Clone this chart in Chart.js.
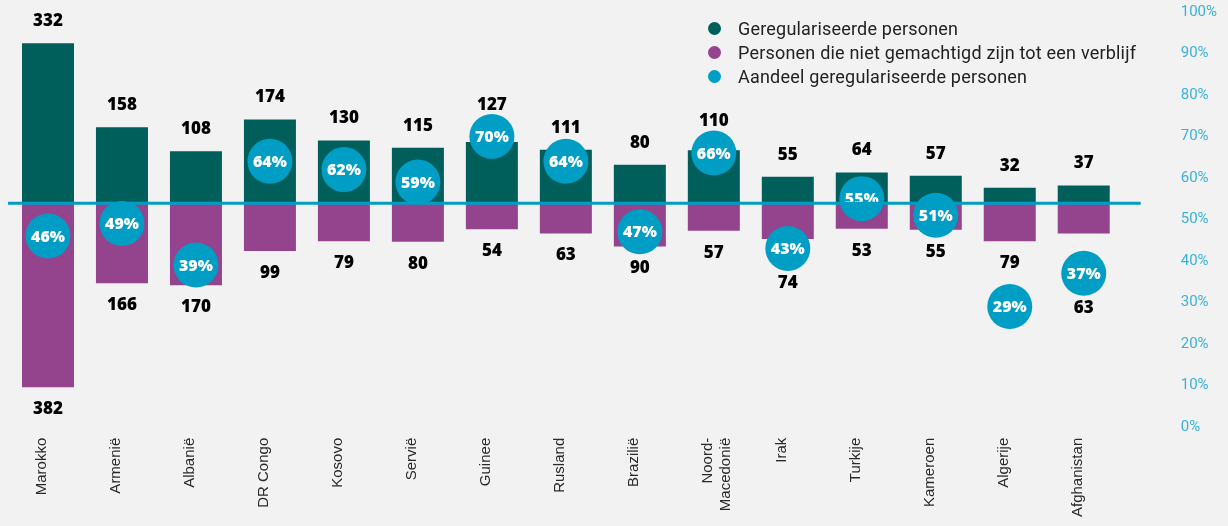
<!DOCTYPE html>
<html><head><meta charset="utf-8">
<script src="https://cdn.jsdelivr.net/npm/chart.js@4.4.1/dist/chart.umd.min.js"></script>
<style>
html,body{margin:0;padding:0;background:#f2f2f2;}
#wrap{position:relative;width:1228px;height:526px;background:#f2f2f2;}
canvas{display:block;}
#legend{position:absolute;left:708px;top:16px;font-family:Roboto,sans-serif;font-size:18px;letter-spacing:0.2px;color:#222;}
.item{display:flex;align-items:center;height:24px;white-space:nowrap;}
.dot{width:13px;height:13px;border-radius:50%;margin-right:17px;flex:none;}
</style></head>
<body><div id="wrap"><canvas id="c" width="1228" height="526"></canvas><div id="legend"></div></div>
<script>
const categories = ['Marokko','Armenië','Albanië','DR Congo','Kosovo','Servië','Guinee','Rusland','Brazilië',['Noord-','Macedonië'],'Irak','Turkije','Kameroen','Algerije','Afghanistan'];
const regularised = [332,158,108,174,130,115,127,111,80,110,55,64,57,32,37];
const notAuthorised = [382,166,170,99,79,80,54,63,90,57,74,53,55,79,63];
const shares = [46,49,39,64,62,59,70,64,47,66,43,55,51,29,37];
const seriesNames = ['Geregulariseerde personen','Personen die niet gemachtigd zijn tot een verblijf','Aandeel geregulariseerde personen'];
const colors = {teal:'#005f5b', purple:'#93448c', blue:'#009ec5', tick:'#3bb1d7'};

const R = 22.5;
const labelPlugin = {
  id: 'labels',
  afterDatasetsDraw(chart) {
    const ctx = chart.ctx;
    const circ = chart.getDatasetMeta(0).data;
    const up = chart.getDatasetMeta(1).data;
    const dn = chart.getDatasetMeta(2).data;
    ctx.save();
    ctx.fillStyle = '#ffffff';
    ctx.font = '800 16px "Open Sans"';
    ctx.textAlign = 'center';
    ctx.textBaseline = 'middle';
    circ.forEach((p, i) => ctx.fillText(shares[i] + '%', p.x, p.y + 1));
    const y0 = chart.scales.y.getPixelForValue(0);
    ctx.strokeStyle = colors.blue;
    ctx.lineWidth = 3;
    ctx.beginPath();
    ctx.moveTo(chart.chartArea.left - 3, y0);
    ctx.lineTo(chart.chartArea.right + 20, y0);
    ctx.stroke();
    ctx.fillStyle = '#000000';
    ctx.font = '800 17px "Open Sans"';
    const H = 8;
    up.forEach((b, i) => {
      const c = circ[i];
      let y = b.y - 22;
      if (y + H > c.y - R && y - H < c.y + R) y = c.y - R - 9;
      ctx.fillText(String(regularised[i]), b.x, y);
    });
    dn.forEach((b, i) => {
      const c = circ[i];
      const bottom = b.y;
      let y = bottom + 22;
      const hit = yy => (yy + H > c.y - R && yy - H < c.y + R);
      if (hit(y)) {
        y = bottom + 10;
        if (hit(y)) y = c.y + R + 12.5;
      }
      ctx.fillText(String(notAuthorised[i]), b.x, y);
    });
    ctx.restore();
  }
};

const bgPlugin = {
  id: 'bg',
  beforeDraw(chart) {
    const ctx = chart.ctx;
    ctx.save();
    ctx.fillStyle = '#f2f2f2';
    ctx.fillRect(0, 0, chart.width, chart.height);
    ctx.restore();
  }
};

new Chart(document.getElementById('c'), {
  type: 'bar',
  data: {
    labels: categories,
    datasets: [
      {type:'line', label: seriesNames[2], data: shares, yAxisID:'y1', showLine:false,
       pointRadius:R, pointHoverRadius:R, pointBackgroundColor:colors.blue, pointBorderWidth:0,
       backgroundColor:colors.blue, borderColor:colors.blue, order:0, stack:'p', clip:false},
      {label: seriesNames[0], data: regularised, backgroundColor: colors.teal, yAxisID:'y', stack:'s', order:1,
       categoryPercentage:1, barPercentage:0.703},
      {label: seriesNames[1], data: notAuthorised.map(v => -v), backgroundColor: colors.purple, yAxisID:'y', stack:'s', order:2,
       categoryPercentage:1, barPercentage:0.703}
    ]
  },
  options: {
    responsive:false, animation:false, devicePixelRatio:1,
    layout:{autoPadding:false, padding:{left:11, right:11, top:12, bottom:9}},
    plugins:{legend:{display:false}, tooltip:{enabled:false}},
    events:[],
    scales:{
      x:{stacked:true, grid:{display:false, drawTicks:false}, border:{display:false},
         afterFit(s){ s.paddingLeft = 0; s.paddingRight = 0; s.height -= s.options.ticks.padding; },
         ticks:{minRotation:90, maxRotation:90, autoSkip:false, padding:11, labelOffset:-6,
                color:'#2a2a2a', font:{family:'"Liberation Sans"', size:15}}},
      y:{display:false, stacked:true, min:-464, max:397},
      y1:{position:'right', min:0, max:100, grid:{display:false, drawTicks:false}, border:{display:false},
          afterFit(s){ s.paddingTop = 0; s.paddingBottom = 0; s.width -= s.options.ticks.padding; },
          ticks:{stepSize:10, padding:60, color:colors.tick, font:{family:'Roboto', size:15},
                 callback:v => v + '%'}}
    }
  },
  plugins:[bgPlugin, labelPlugin]
});

const lg = document.getElementById('legend');
[[seriesNames[0], colors.teal],[seriesNames[1], colors.purple],[seriesNames[2], colors.blue]].forEach(([t, c]) => {
  const d = document.createElement('div'); d.className = 'item';
  const s = document.createElement('span'); s.className = 'dot'; s.style.background = c;
  const l = document.createElement('span'); l.textContent = t;
  d.appendChild(s); d.appendChild(l); lg.appendChild(d);
});
</script>
</body></html>
